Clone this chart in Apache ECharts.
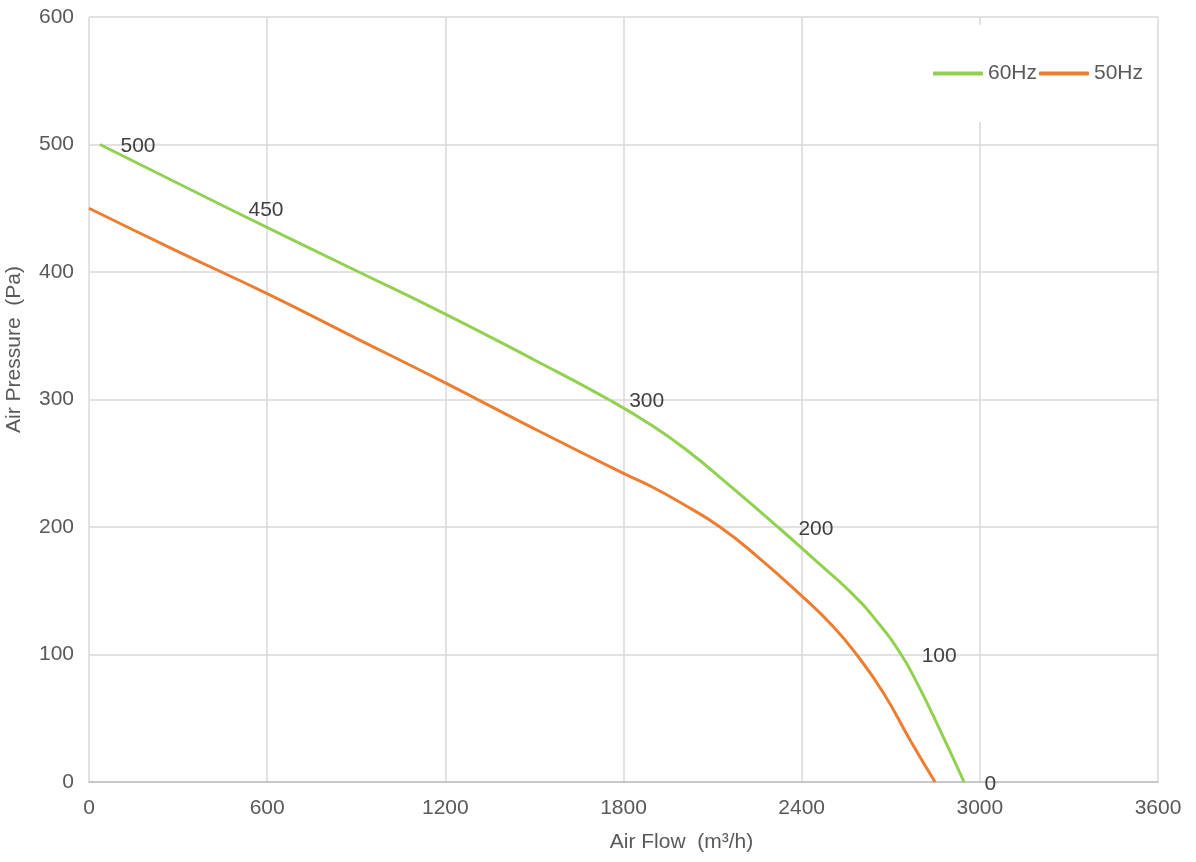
<!DOCTYPE html>
<html>
<head>
<meta charset="utf-8">
<script src="https://cdn.jsdelivr.net/npm/echarts@6/dist/echarts.min.js"></script>
<style>
  html, body { margin: 0; padding: 0; background: #fff; }
  #main { width: 1196px; height: 862px; }
</style>
</head>
<body>
<div id="main"></div>
<script>
// 60Hz curve (flow m3/h, pressure Pa); labelled points listed separately
let flow60 = [37, 468, 900, 1200, 1500, 1750, 1900, 2020, 2150, 2320, 2450, 2560, 2650, 2735, 2790, 2843, 2947];
let pressure60 = [500, 450, 401, 367, 331, 300, 279, 259, 234, 200, 173, 150, 127, 100, 77, 52, 0];
let labelled60 = [37, 468, 1750, 2320, 2735, 2947];

// 50Hz curve
let flow50 = [0, 300, 600, 900, 1200, 1500, 1800, 1900, 2000, 2125, 2250, 2400, 2506, 2585, 2675, 2765, 2849];
let pressure50 = [450, 416, 383, 348, 313, 277, 242, 231, 218, 200, 177, 146, 122, 100, 70, 33, 0];

let xTicks = [0, 600, 1200, 1800, 2400, 3000, 3600];
let yTicks = [0, 100, 200, 300, 400, 500, 600];

let font = 'Liberation Sans, Arial, sans-serif';
let myChart = echarts.init(document.getElementById('main'));

let data60 = flow60.map(function (x, i) {
    let item = { value: [x, pressure60[i]] };
    if (labelled60.indexOf(x) >= 0) {
        item.label = { show: true };
    }
    return item;
});
let data50 = flow50.map(function (x, i) { return [x, pressure50[i]]; });

let option = {
    animation: false,
    textStyle: { fontFamily: font },
    grid: { left: 89, right: 38, top: 17, bottom: 80, outerBoundsMode: 'none', containLabel: false },
    legend: {
        right: 43,
        top: 25,
        padding: [38, 10, 38, 40],
        backgroundColor: '#fff',
        icon: 'roundRect',
        itemWidth: 50,
        itemHeight: 4,
        itemGap: 2,
        textStyle: { fontSize: 21, color: '#595959', fontFamily: font },
        data: ['60Hz', '50Hz']
    },
    xAxis: {
        type: 'value',
        min: xTicks[0],
        max: xTicks[xTicks.length - 1],
        interval: 600,
        name: 'Air Flow  (m³/h)',
        nameLocation: 'middle',
        nameGap: 50,
        nameTextStyle: { fontSize: 21, color: '#595959', padding: [0, 0, 0, 116] },
        axisLine: { lineStyle: { color: '#bfbfbf', width: 1.5 } },
        axisTick: { show: false },
        axisLabel: { fontSize: 21, color: '#595959', margin: 16, formatter: function (v) { return String(v); } },
        splitLine: { show: true, lineStyle: { color: '#d9d9d9', width: 1.5 } }
    },
    yAxis: {
        type: 'value',
        min: yTicks[0],
        max: yTicks[yTicks.length - 1],
        interval: 100,
        name: 'Air Pressure  (Pa)',
        nameLocation: 'middle',
        nameGap: 64,
        nameTextStyle: { fontSize: 21, color: '#595959', padding: [0, 0, 0, 100] },
        axisLine: { show: false },
        axisTick: { show: false },
        axisLabel: { fontSize: 21, color: '#595959', margin: 15 },
        splitLine: { show: true, lineStyle: { color: '#d9d9d9', width: 1.5 } }
    },
    series: [
        {
            name: '60Hz',
            type: 'line',
            smooth: 0.5,
            showSymbol: true,
            showAllSymbol: true,
            symbol: 'circle',
            symbolSize: 1,
            color: '#92d050',
            itemStyle: { color: '#92d050' },
            lineStyle: { width: 3, color: '#92d050' },
            label: {
                show: false,
                position: 'right',
                distance: 20,
                offset: [0, 2],
                fontSize: 21,
                color: '#404040',
                formatter: function (p) { return p.value[1]; }
            },
            data: data60,
            z: 3
        },
        {
            name: '50Hz',
            type: 'line',
            smooth: 0.5,
            showSymbol: false,
            symbol: 'none',
            color: '#ed7d31',
            lineStyle: { width: 3, color: '#ed7d31' },
            data: data50,
            z: 2
        }
    ]
};

myChart.setOption(option);
</script>
</body>
</html>
